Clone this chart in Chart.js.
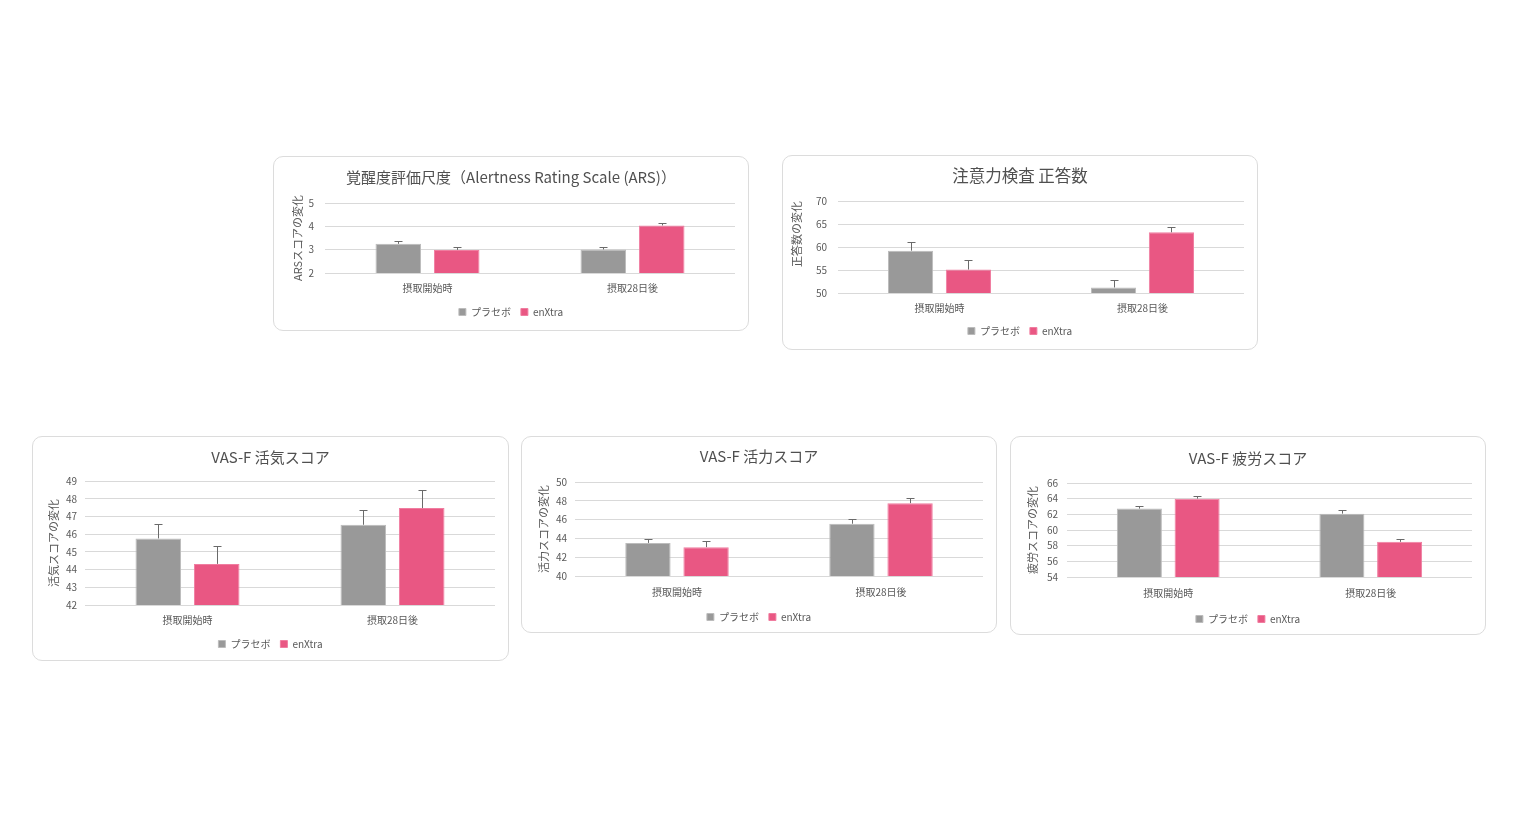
<!DOCTYPE html>
<html lang="ja">
<head>
<meta charset="utf-8">
<title>enXtra</title>
<script src="https://cdn.jsdelivr.net/npm/chart.js@4.4.0/dist/chart.umd.min.js"></script>
<style>
  body { margin: 0; background: #fff; width: 1520px; height: 816px; position: relative; overflow: hidden; }
  .card { position: absolute; border: 1px solid #dcdcdc; border-radius: 10px; background: #fff; }
  .card canvas { position: absolute; left: -1px; top: -1px; }
</style>
</head>
<body>
<div class="card" id="card1"><canvas id="c1"></canvas></div>
<div class="card" id="card2"><canvas id="c2"></canvas></div>
<div class="card" id="card3"><canvas id="c3"></canvas></div>
<div class="card" id="card4"><canvas id="c4"></canvas></div>
<div class="card" id="card5"><canvas id="c5"></canvas></div>

<script>
// datos
const categorias = ["摂取開始時", "摂取28日後"];
const series = ["プラセボ", "enXtra"];

// 覚醒度評価尺度 (ARS)
const arsPlacebo = [3.25, 3.01];
const arsPlaceboErr = [0.11, 0.10];
const arsEnxtra = [2.99, 4.04];
const arsEnxtraErr = [0.12, 0.09];
const arsTicks = [2, 3, 4, 5];

// 注意力検査 正答数
const atPlacebo = [59.2, 51.2];
const atPlaceboErr = [1.8, 1.6];
const atEnxtra = [55.1, 63.2];
const atEnxtraErr = [2.0, 1.1];
const atTicks = [50, 55, 60, 65, 70];

// VAS-F 活気スコア
const kakkiPlacebo = [45.76, 46.53];
const kakkiPlaceboErr = [0.79, 0.86];
const kakkiEnxtra = [44.32, 47.47];
const kakkiEnxtraErr = [1.03, 1.01];
const kakkiTicks = [42, 43, 44, 45, 46, 47, 48, 49];

// VAS-F 活力スコア
const katsuPlacebo = [43.52, 45.56];
const katsuPlaceboErr = [0.45, 0.53];
const katsuEnxtra = [43.07, 47.75];
const katsuEnxtraErr = [0.63, 0.60];
const katsuTicks = [40, 42, 44, 46, 48, 50];

// VAS-F 疲労スコア
const hiroPlacebo = [62.73, 62.09];
const hiroPlaceboErr = [0.37, 0.51];
const hiroEnxtra = [64.00, 58.49];
const hiroEnxtraErr = [0.38, 0.38];
const hiroTicks = [54, 56, 58, 60, 62, 64, 66];

Chart.defaults.font.family = '"Noto Sans CJK JP", "Noto Sans", sans-serif';
Chart.defaults.color = '#595959';

// barras de error (solo hacia arriba)
const barrasError = {
    id: 'barrasError',
    afterDatasetsDraw(chart) {
        const ctx = chart.ctx;
        const y = chart.scales.y;
        chart.data.datasets.forEach((ds, i) => {
            chart.getDatasetMeta(i).data.forEach((bar, j) => {
                const x = Math.round(bar.x) + 0.5;
                const top = Math.round(y.getPixelForValue(ds.data[j] + ds.errores[j])) + 0.5;
                ctx.save();
                ctx.strokeStyle = '#6a6a6a';
                ctx.lineWidth = 1;
                ctx.beginPath();
                ctx.moveTo(x, bar.y);
                ctx.lineTo(x, top);
                ctx.moveTo(x - 4, top);
                ctx.lineTo(x + 4, top);
                ctx.stroke();
                ctx.restore();
            });
        });
    }
};

const crearGrafico = (id, caja, titulo, ejeY, ticks, placebo, placeboErr, enxtra, enxtraErr) => {
    const card = document.getElementById('card' + id);
    card.style.left = caja.x + 'px';
    card.style.top = caja.y + 'px';
    card.style.width = (caja.w - 2) + 'px';
    card.style.height = (caja.h - 2) + 'px';
    const canvas = document.getElementById('c' + id);
    canvas.width = caja.w;
    canvas.height = caja.h;
    canvas.style.width = caja.w + 'px';
    canvas.style.height = caja.h + 'px';

    const legendTop = caja.legendY - 15;
    const tSize = caja.titleSize || 15;
    const tHalf = tSize * 1.2 / 2;

    new Chart(canvas.getContext('2d'), {
        type: 'bar',
        data: {
            labels: categorias,
            datasets: [{
                label: series[0],
                data: placebo,
                errores: placeboErr,
                backgroundColor: '#999999',
                borderColor: '#bcbcbc',
                borderWidth: 1
            }, {
                label: series[1],
                data: enxtra,
                errores: enxtraErr,
                backgroundColor: '#e95783',
                borderColor: '#f07da0',
                borderWidth: 1
            }]
        },
        options: {
            responsive: false,
            animation: false,
            devicePixelRatio: 1,
            categoryPercentage: 0.57,
            barPercentage: 0.78,
            layout: { padding: { left: 0, right: 0, top: 0, bottom: caja.h - legendTop - 30 } },
            plugins: {
                title: {
                    display: true,
                    text: titulo,
                    color: '#505050',
                    font: { size: tSize, weight: 'normal', lineHeight: 1.2 },
                    padding: { top: caja.titleY - tHalf, bottom: caja.t - caja.titleY - tHalf }
                },
                legend: {
                    position: 'bottom',
                    labels: {
                        boxWidth: 7,
                        boxHeight: 7,
                        padding: 10,
                        color: '#595959',
                        font: { size: 10 }
                    }
                },
                tooltip: { enabled: false }
            },
            scales: {
                x: {
                    grid: { display: false, drawTicks: false },
                    border: { display: false },
                    ticks: { color: '#595959', font: { size: 10 }, padding: caja.catY - caja.b - 6 },
                    afterFit: (s) => { s.height = legendTop - caja.b; }
                },
                y: {
                    min: ticks[0],
                    max: ticks[ticks.length - 1],
                    ticks: { stepSize: ticks[1] - ticks[0], color: '#595959', font: { size: 10 }, padding: caja.tickPad },
                    grid: { color: '#d9d9d9', drawTicks: false },
                    border: { display: false },
                    title: {
                        display: true,
                        text: ejeY,
                        align: caja.yAlign || 'center',
                        color: '#595959',
                        font: { size: 11, lineHeight: 1.2 },
                        padding: { top: caja.yTitleX - 6.6, bottom: 0 }
                    },
                    afterFit: (s) => { s.width = caja.l; }
                },
                y2: {
                    position: 'right',
                    grid: { display: false, drawTicks: false },
                    border: { display: false },
                    ticks: { display: false },
                    afterFit: (s) => { s.width = caja.w - caja.r; }
                }
            }
        },
        plugins: [barrasError]
    });
};

crearGrafico(1, { x: 273, y: 156, w: 476, h: 175, l: 52, r: 462, t: 47, b: 117, titleY: 21, catY: 132, legendY: 156, yTitleX: 25, tickPad: 11 },
    '覚醒度評価尺度（Alertness Rating Scale (ARS)）', 'ARSスコアの変化', arsTicks, arsPlacebo, arsPlaceboErr, arsEnxtra, arsEnxtraErr);
crearGrafico(2, { x: 782, y: 155, w: 476, h: 195, l: 56, r: 462, t: 46, b: 138, titleY: 21, catY: 153, legendY: 176, yTitleX: 15, tickPad: 11, yAlign: 'end', titleSize: 16.5 },
    '注意力検査 正答数', '正答数の変化', atTicks, atPlacebo, atPlaceboErr, atEnxtra, atEnxtraErr);
crearGrafico(3, { x: 32, y: 436, w: 477, h: 225, l: 53, r: 463, t: 45, b: 169, titleY: 21, catY: 184, legendY: 208, yTitleX: 22, tickPad: 8 },
    'VAS-F 活気スコア', '活気スコアの変化', kakkiTicks, kakkiPlacebo, kakkiPlaceboErr, kakkiEnxtra, kakkiEnxtraErr);
crearGrafico(4, { x: 521, y: 436, w: 476, h: 197, l: 54, r: 462, t: 46, b: 140, titleY: 20, catY: 156, legendY: 181, yTitleX: 23, tickPad: 8 },
    'VAS-F 活力スコア', '活力スコアの変化', katsuTicks, katsuPlacebo, katsuPlaceboErr, katsuEnxtra, katsuEnxtraErr);
crearGrafico(5, { x: 1010, y: 436, w: 476, h: 199, l: 57, r: 462, t: 47, b: 141, titleY: 22, catY: 157, legendY: 183, yTitleX: 23, tickPad: 9 },
    'VAS-F 疲労スコア', '疲労スコアの変化', hiroTicks, hiroPlacebo, hiroPlaceboErr, hiroEnxtra, hiroEnxtraErr);
</script>
</body>
</html>
